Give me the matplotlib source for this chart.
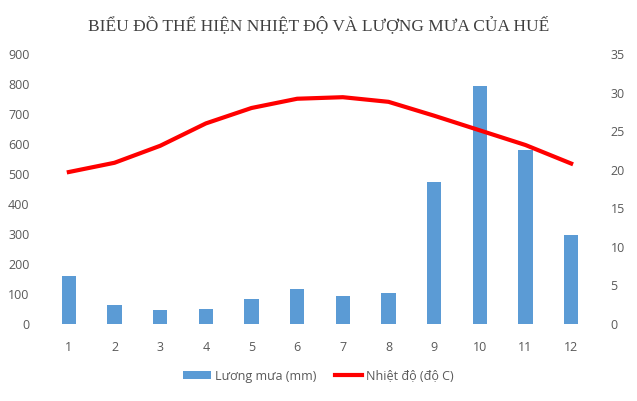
import matplotlib
matplotlib.use("Agg")
import matplotlib.pyplot as plt
import numpy as np

months = [1, 2, 3, 4, 5, 6, 7, 8, 9, 10, 11, 12]
rainfall = [161, 62, 47, 51, 82, 116, 95, 104, 473, 795, 580, 297]
temperature = [19.7, 20.9, 23.1, 26.0, 28.0, 29.2, 29.4, 28.8, 27.0, 25.1, 23.2, 20.8]

left_ticks = [0, 100, 200, 300, 400, 500, 600, 700, 800, 900]
right_ticks = [0, 5, 10, 15, 20, 25, 30, 35]

BAR_COLOR = "#5B9BD5"
LINE_COLOR = "#FF0000"
TICK_COLOR = "#595959"
TICK_FONT = "Open Sans"

fig = plt.figure(figsize=(6.37, 4.01), dpi=100)
ax = fig.add_axes([46 / 637, 1 - 324 / 401, 548 / 637, 270 / 401])
ax2 = ax.twinx()

x = np.arange(len(months))
ax.bar(x, rainfall, width=0.31, color=BAR_COLOR, label="Lương mưa (mm)", zorder=2)
ax2.plot(x, temperature, color=LINE_COLOR, linewidth=3, label="Nhiệt độ (độ C)", zorder=3)

ax.set_xlim(-0.5, len(months) - 0.5)
ax.set_ylim(0, 900)
ax2.set_ylim(0, 35)
ax.set_yticks(left_ticks)
ax2.set_yticks(right_ticks)
ax.set_xticks(x)
ax.set_xticklabels([str(m) for m in months])

for a in (ax, ax2):
    for s in a.spines.values():
        s.set_visible(False)
    a.tick_params(length=0, colors=TICK_COLOR, labelsize=9)
    for lbl in a.get_xticklabels() + a.get_yticklabels():
        lbl.set_fontfamily(TICK_FONT)
ax.tick_params(axis="x", pad=12)
ax.tick_params(axis="y", pad=12)
ax2.tick_params(axis="y", pad=12)

fig.text(0.5, 0.937, "BIỂU ĐỒ THỂ HIỆN NHIỆT ĐỘ VÀ LƯỢNG MƯA CỦA HUẾ",
         ha="center", va="center", fontsize=12.5, color="#404040",
         family="Liberation Serif")

h1, l1 = ax.get_legend_handles_labels()
h2, l2 = ax2.get_legend_handles_labels()
fig.legend(h1 + h2, l1 + l2, loc="center", bbox_to_anchor=(0.5, 0.062), ncol=2,
           frameon=False, prop={"family": TICK_FONT, "size": 9},
           labelcolor=TICK_COLOR, handlelength=2.2, handleheight=0.6,
           columnspacing=1.5, handletextpad=0.3)

fig.savefig("out.png", dpi=100)
